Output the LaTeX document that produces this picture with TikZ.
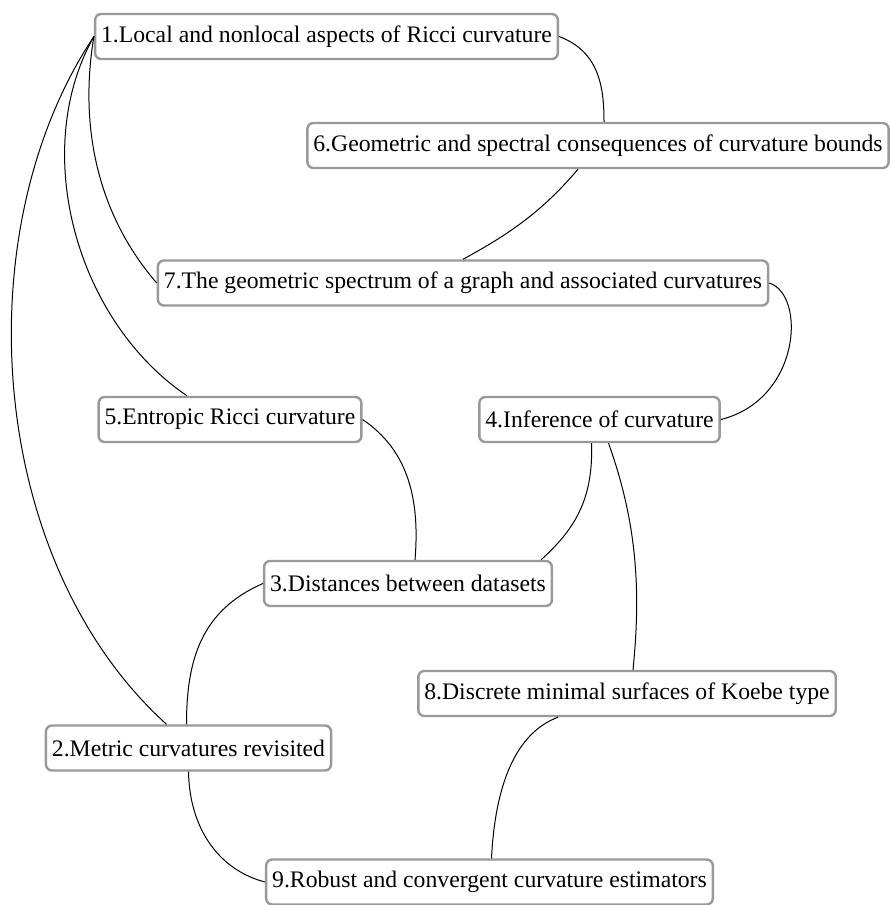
\documentclass[tikz,border=0pt]{standalone}
\usepackage{fontspec}
\setmainfont{Liberation Serif}
\usepackage{tikz}
\usetikzlibrary{positioning}
\definecolor{boxc}{RGB}{153,153,153}

\begin{document}
\begin{tikzpicture}[x=1pt, y=-1pt,
    topic/.style={draw=boxc, fill=white, rounded corners=6pt, line width=2.4pt,
      minimum height=45pt, inner xsep=6pt, font=\fontsize{23.7}{28}\selectfont},
    link/.style={black, line width=1pt}]
  \useasboundingbox (0,0) rectangle (889,905);
  \node[topic] (n1) at (326.5,36.5) {1.Local and nonlocal aspects of Ricci curvature};
  \node[topic] (n6) at (598,145.5) {6.Geometric and spectral consequences of curvature bounds};
  \node[topic] (n7) at (463,283) {7.The geometric spectrum of a graph and associated curvatures};
  \node[topic] (n5) at (230,419.5) {5.Entropic Ricci curvature};
  \node[topic] (n4) at (599.5,419.5) {4.Inference of curvature};
  \node[topic] (n3) at (408,583.5) {3.Distances between datasets};
  \node[topic] (n8) at (627,693.5) {8.Discrete minimal surfaces of Koebe type};
  \node[topic] (n2) at (188.5,748) {2.Metric curvatures revisited};
  \node[topic] (n9) at (489.5,882) {9.Robust and convergent curvature estimators};
  % curved links between topics
  \draw[link] (n1.east) .. controls +(40,15) and +(0,-35) .. ([xshift=6pt]n6.north);
  \draw[link] ([xshift=-20pt]n6.south) .. controls +(-38,45) and +(42,-23) .. (n7.north);
  \draw[link] (n1.west) .. controls +(-14,83) and +(-63,-73) .. (n7.west);
  \draw[link] (n1.west) .. controls +(-64,113) and +(-112,-76) .. ([xshift=-43pt]n5.north);
  \draw[link] (n1.west) .. controls +(-129,193) and +(-181,-164) .. ([xshift=-22pt]n2.north);
  \draw[link] (n7.east) .. controls +(37,12) and +(80,-20) .. (n4.east);
  \draw[link] (n5.east) .. controls +(46,31) and +(5,-60) .. ([xshift=7pt]n3.north);
  \draw[link] ([xshift=-8pt]n4.south) .. controls +(2,57) and +(33,-30) .. ([xshift=-12pt]n3.north east);
  \draw[link] ([xshift=9pt]n4.south) .. controls +(31,86) and +(7,-70) .. ([xshift=6pt]n8.north);
  \draw[link] (n3.west) .. controls +(-62,27) and +(0,-64) .. ([xshift=-2pt]n2.north);
  \draw[link] (n2.south) .. controls +(1,57) and +(-46,-12) .. (n9.west);
  \draw[link] ([xshift=-69pt]n8.south) .. controls +(-48,18) and +(3,-61) .. ([xshift=2pt]n9.north);
\end{tikzpicture}
\end{document}
